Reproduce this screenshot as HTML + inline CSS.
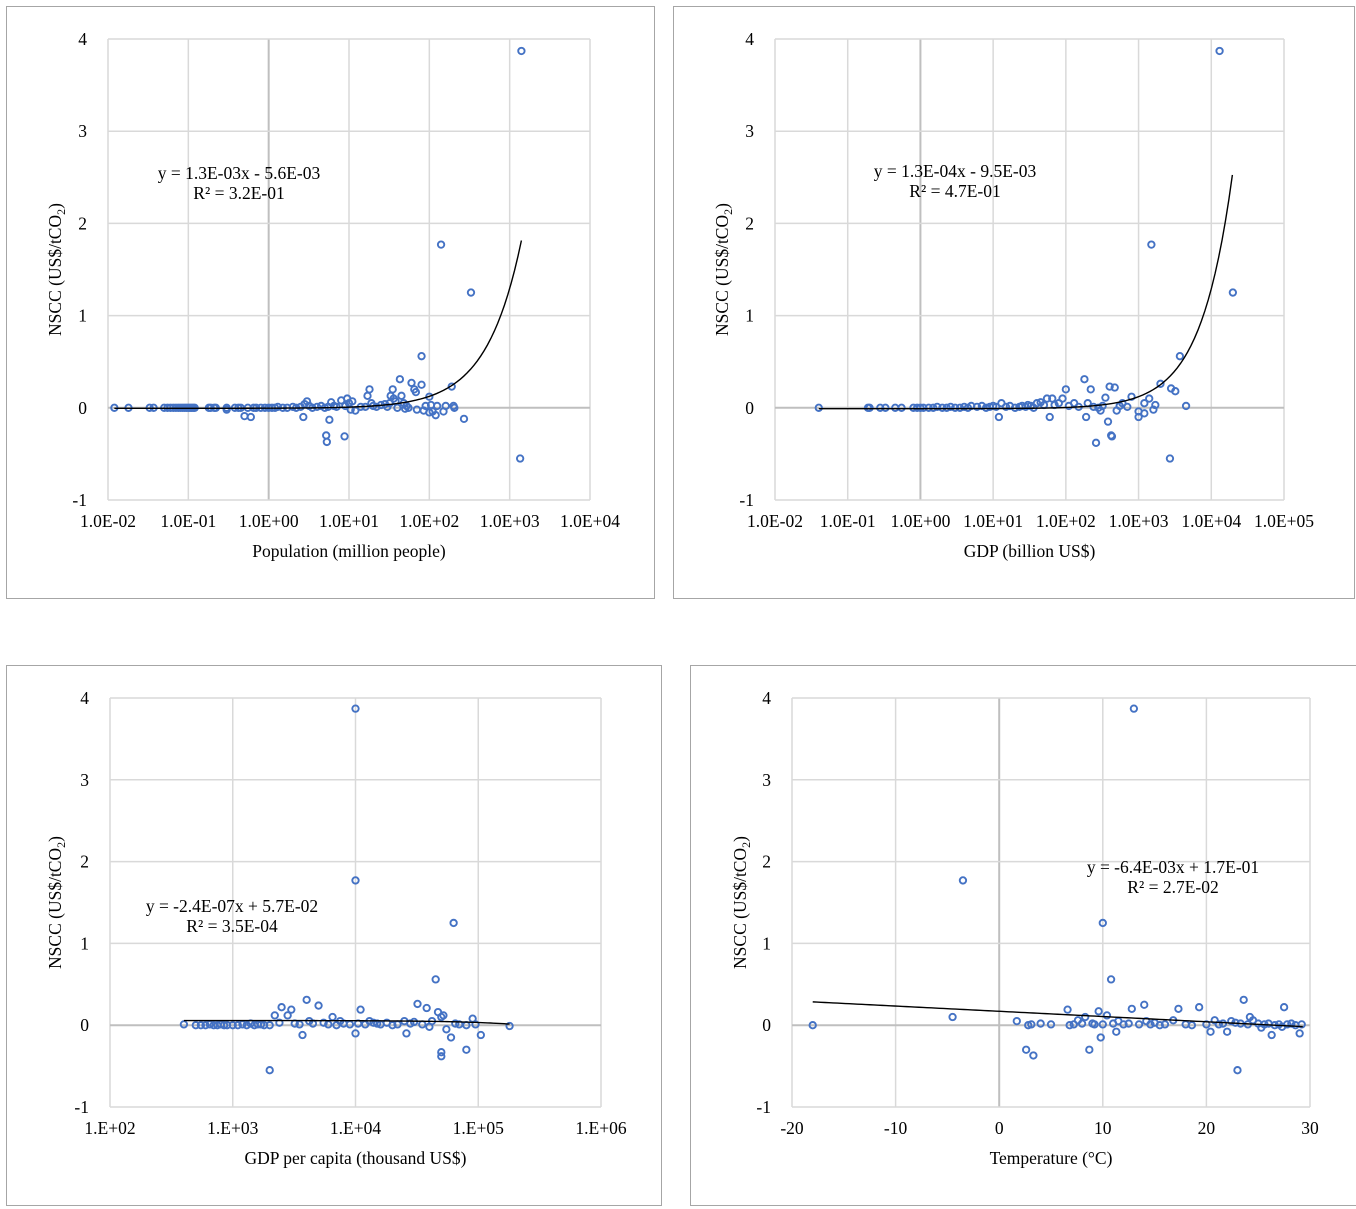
<!DOCTYPE html>
<html><head><meta charset="utf-8">
<style>
html,body{margin:0;padding:0;background:#fff;}
body{width:1356px;height:1209px;overflow:hidden;position:relative;font-family:"Liberation Serif",serif;}
svg{position:absolute;left:0;top:0;}
</style></head>
<body>
<svg id="chart" width="1356" height="1209" viewBox="0 0 1356 1209" xmlns="http://www.w3.org/2000/svg"></svg>
<script>
// ---------- Panel A: population ----------
const popX = [0.012,0.018,0.033,0.037,0.05,0.055,0.06,0.065,0.07,0.075,0.08,0.085,0.09,0.095,0.1,0.105,0.11,0.115,0.12,0.18,0.19,0.21,0.22,0.3,0.3,0.38,0.42,0.45,0.5,0.6,0.55,0.65,0.7,0.8,0.9,1.0,1.1,1.2,1.3,1.5,1.7,2.0,2.2,2.5,2.7,2.8,3.0,3.2,3.5,4.0,4.5,5.0,5.2,5.3,5.5,5.7,6.0,6.5,7,8,8.8,9,9.5,10,10.5,11,12,14,16,17,18,19,20,22,25,28,30,32,33,35,36,38,40,43,45,48,50,52,55,60,65,68,70,80,80,85,90,100,100,105,110,120,125,140,150,160,190,200,205,270,330,1350,1400];
const popY = [0,0,0,0,0,0,0,0,0,0,0,0,0,0,0,0,0,0,0,0,0,0,0,0,-0.02,0,0,0,-0.09,-0.1,0,0,0,0,0,0,0,0,0.01,0,0,0.01,0,0.01,-0.1,0.04,0.07,0.02,0,0.01,0.02,0,-0.3,-0.37,0.01,-0.13,0.06,0.02,0.01,0.08,-0.31,0.02,0.1,0.05,-0.02,0.07,-0.03,0.01,0.01,0.13,0.2,0.05,0.02,0.01,0.03,0.04,0.01,0.05,0.13,0.2,0.1,0.07,0,0.31,0.13,0.05,-0.01,0.02,0,0.27,0.2,0.17,-0.02,0.25,0.56,-0.03,0.02,0.12,-0.05,0.03,-0.04,-0.08,0.02,1.77,-0.04,0.02,0.23,0.02,0,-0.12,1.25,-0.55,3.87];
// ---------- Panel B: GDP ----------
const gdpX = [0.04,0.19,0.2,0.28,0.33,0.45,0.55,0.8,0.9,1.0,1.1,1.3,1.5,1.7,2.0,2.3,2.6,3,3.5,4,4.5,5,6,7,8,9,10,11,12,13,15,17,20,23,25,28,30,33,36,40,45,50,55,60,65,70,80,90,100,110,130,150,180,190,200,220,240,260,280,300,320,350,380,400,420,430,470,500,550,600,700,800,1000,1000,1200,1200,1400,1500,1600,1700,2000,2700,2800,3200,3700,4500,13000,19800];
const gdpY = [0,0,0,0,0,0,0,0,0,0,0,0,0,0.01,0,0,0.01,0,0,0.01,0,0.02,0.01,0.02,0,0.01,0.02,0.01,-0.1,0.05,0.01,0.02,0,0.01,0.02,0.01,0.03,0.02,0,0.05,0.06,0.03,0.1,-0.1,0.1,0.03,0.05,0.1,0.2,0.02,0.05,0.01,0.31,-0.1,0.05,0.2,0.01,-0.38,0,-0.03,0.02,0.11,-0.15,0.23,-0.3,-0.31,0.22,-0.03,0.02,0.05,0.01,0.12,-0.1,-0.04,-0.06,0.05,0.1,1.77,-0.02,0.03,0.26,-0.55,0.21,0.18,0.56,0.02,3.87,1.25];
// ---------- Panel C: GDP per capita ----------
const pcX = [400,500,550,600,650,700,750,800,850,900,1000,1100,1200,1300,1400,1500,1600,1700,1800,2000,2000,2200,2400,2500,2800,3000,3200,3500,3700,4000,4200,4500,5000,5500,6000,6500,7000,7500,8000,9000,10000,10000,10000,10500,11000,12000,13000,14000,15000,16000,18000,20000,22000,25000,26000,28000,30000,32000,35000,38000,40000,42000,45000,47000,50000,50000,50000,52000,55000,60000,63000,65000,70000,80000,80000,90000,95000,105000,180000];
const pcY = [0.01,0,0,0,0.01,0,0,0.01,0,0,0,0,0.01,0,0.02,0,0.01,0.01,0,0,-0.55,0.12,0.03,0.22,0.12,0.19,0.02,0.01,-0.12,0.31,0.05,0.02,0.24,0.03,0.01,0.1,0,0.05,0.02,0.01,3.87,1.77,-0.1,0.02,0.19,0.01,0.05,0.03,0.02,0.01,0.03,0,0.01,0.05,-0.1,0.02,0.04,0.26,0.01,0.21,-0.02,0.05,0.56,0.16,-0.33,-0.38,0.1,0.12,-0.05,-0.15,1.25,0.02,0.01,-0.3,0,0.08,0.01,-0.12,-0.01];
// ---------- Panel D: temperature ----------
const tX = [-18,-4.5,-3.5,1.7,2.6,2.8,3.1,3.3,4,5,6.6,6.8,7.2,7.6,8,8.3,8.7,9,9.2,9.6,9.8,10,10,10.4,10.8,11,11.3,11.5,12,12.5,12.8,13,13.5,14,14.2,14.6,15,15.5,16,16.8,17.3,18,18.6,19.3,20,20.4,20.8,21.2,21.6,22,22.4,22.8,23,23.3,23.6,24,24.2,24.5,25,25.3,25.6,26,26.3,26.6,27,27.3,27.5,27.8,28.2,28.6,29,29.2];
const tY = [0,0.1,1.77,0.05,-0.3,0,0.01,-0.37,0.02,0.01,0.19,0,0.01,0.06,0.02,0.1,-0.3,0.02,0.01,0.17,-0.15,0.01,1.25,0.12,0.56,0.02,-0.08,0.05,0.01,0.02,0.2,3.87,0.01,0.25,0.05,0.01,0.03,0,0.01,0.06,0.2,0.01,0,0.22,0.01,-0.08,0.06,0.01,0.02,-0.08,0.05,0.03,-0.55,0.02,0.31,0.01,0.1,0.06,0.02,-0.03,0.01,0.02,-0.12,0,0.01,-0.02,0.22,0.01,0.02,0,-0.1,0.01];

const yTicks = [-1,0,1,2,3,4];
const popTicks = ["1.0E-02","1.0E-01","1.0E+00","1.0E+01","1.0E+02","1.0E+03","1.0E+04"];
const gdpTicks = ["1.0E-02","1.0E-01","1.0E+00","1.0E+01","1.0E+02","1.0E+03","1.0E+04","1.0E+05"];
const pcTicks = ["1.E+02","1.E+03","1.E+04","1.E+05","1.E+06"];
const tTicks = [-20,-10,0,10,20,30];
const popFit = [1.3e-3, -5.6e-3];
const gdpFit = [1.3e-4, -9.5e-3];
const pcFit = [-2.4e-7, 5.7e-2];
const tFit = [-6.4e-3, 1.7e-1];

const NS = "http://www.w3.org/2000/svg";
const svg = document.getElementById('chart');
const FS = 17.5;
function mk(tag, parent, attrs){const e=document.createElementNS(NS,tag);for(const k in attrs)e.setAttribute(k,attrs[k]);parent.appendChild(e);return e;}

function panel(p){
  const g = mk('g', svg, {});
  
  
  const fr = mk('rect', g, {x:p.fx, y:p.fy, width:p.fw, height:p.fh, fill:'#fff', stroke:'#a6a6a6', 'stroke-width':1});
  
  
  const xs = p.log
    ? v => p.x0 + (Math.log10(v) - p.xmin) / (p.xmax - p.xmin) * (p.x1 - p.x0)
    : v => p.x0 + (v - p.xmin) / (p.xmax - p.xmin) * (p.x1 - p.x0);
  const ys = v => p.y1 + (v - (-1)) / 5 * (p.y0 - p.y1);
  p.ticks.forEach((t,i)=>{
    const xv = p.log ? Math.pow(10, p.xmin + i) : t;
    const x = xs(xv);
    const isAxis = p.log ? (p.xmin + i === 0) : (t === 0);
    const l = mk('line', g, {x1:x, x2:x, y1:p.y0, y2:p.y1, stroke: isAxis ? '#bfbfbf' : '#d9d9d9', 'stroke-width': isAxis?2:1.5});
    
    
    const tx = mk('text', g, {x:x, y:p.y1+27, 'text-anchor':'middle', 'font-size':FS, fill:'#000'});
    
    
    tx.textContent = t;
  });
  yTicks.forEach(t=>{
    const y = ys(t);
    const l = mk('line', g, {x1:p.x0, x2:p.x1, y1:y, y2:y, stroke: t===0 ? '#bfbfbf' : '#d9d9d9', 'stroke-width': t===0?2:1.5});
    
    
    const tx = mk('text', g, {x:p.x0-21, y:y+6, 'text-anchor':'end', 'font-size':FS, fill:'#000'});
    
    
    tx.textContent = t;
  });
  p.xd.forEach((xv,i)=>{
    const c = mk('circle', g, {cx:xs(xv), cy:ys(p.yd[i]), r:3.2, fill:'none', stroke:'#4472c4', 'stroke-width':1.9});
    
    
  });
  let d='';
  const N=120;
  for(let k=0;k<=N;k++){
    let xv;
    if(p.log){const a=Math.log10(p.fitFrom),b=Math.log10(p.fitTo);xv=Math.pow(10,a+(b-a)*k/N);}
    else xv=p.fitFrom+(p.fitTo-p.fitFrom)*k/N;
    const yv=p.fit[0]*xv+p.fit[1];
    d+=(k?'L':'M')+xs(xv).toFixed(2)+','+ys(yv).toFixed(2);
  }
  const tl = mk('path', g, {d:d, fill:'none', stroke:'#000', 'stroke-width':1.4});
  
  
  const eq = mk('text', g, {x:p.eqx, y:p.eqy, 'text-anchor':'middle', 'font-size':FS, fill:'#000'});
  
  
  eq.textContent = p.eq;
  const r2 = mk('text', g, {x:p.eqx, y:p.eqy+20, 'text-anchor':'middle', 'font-size':FS, fill:'#000'});
  
  
  r2.textContent = p.r2;
  const xt = mk('text', g, {x:(p.x0+p.x1)/2, y:p.y1+57, 'text-anchor':'middle', 'font-size':FS, fill:'#000'});
  
  
  xt.textContent = p.xtitle;
  const cy=(p.y0+p.y1)/2;
  const yt = mk('text', g, {x:0, y:0, 'text-anchor':'middle', 'font-size':FS, fill:'#000', transform:`translate(${p.ytx},${cy}) rotate(-90)`});
  
  
  yt.appendChild(document.createTextNode('NSCC (US$/tCO'));
  const sub = mk('tspan', yt, {'font-size':12, dy:4}); sub.textContent='2';
  const cl = mk('tspan', yt, {dy:-4}); cl.textContent=')';
}

panel({name:'panel-population', fx:6.5,fy:6.5,fw:648,fh:592, x0:108,x1:590,y0:39,y1:500, log:true,xmin:-2,xmax:4, ticks:popTicks, xd:popX, yd:popY, fit:popFit, fitFrom:0.012, fitTo:1400, eq:'y = 1.3E-03x - 5.6E-03', r2:'R² = 3.2E-01', eqx:239, eqy:179, xtitle:'Population (million people)', ytx:61});
panel({name:'panel-gdp', fx:673.5,fy:6.5,fw:681,fh:592, x0:775,x1:1284,y0:39,y1:500, log:true,xmin:-2,xmax:5, ticks:gdpTicks, xd:gdpX, yd:gdpY, fit:gdpFit, fitFrom:0.04, fitTo:19500, eq:'y = 1.3E-04x - 9.5E-03', r2:'R² = 4.7E-01', eqx:955, eqy:177, xtitle:'GDP (billion US$)', ytx:728});
panel({name:'panel-gdp-per-capita', fx:6.5,fy:665.5,fw:655,fh:540, x0:110,x1:601,y0:698,y1:1107, log:true,xmin:2,xmax:6, ticks:pcTicks, xd:pcX, yd:pcY, fit:pcFit, fitFrom:400, fitTo:180000, eq:'y = -2.4E-07x + 5.7E-02', r2:'R² = 3.5E-04', eqx:232, eqy:912, xtitle:'GDP per capita (thousand US$)', ytx:61});
panel({name:'panel-temperature', fx:690.5,fy:665.5,fw:666,fh:540, x0:792,x1:1310,y0:698,y1:1107, log:false,xmin:-20,xmax:30, ticks:tTicks, xd:tX, yd:tY, fit:tFit, fitFrom:-18, fitTo:29.3, eq:'y = -6.4E-03x + 1.7E-01', r2:'R² = 2.7E-02', eqx:1173, eqy:873, xtitle:'Temperature (°C)', ytx:746});
</script>
</body></html>
